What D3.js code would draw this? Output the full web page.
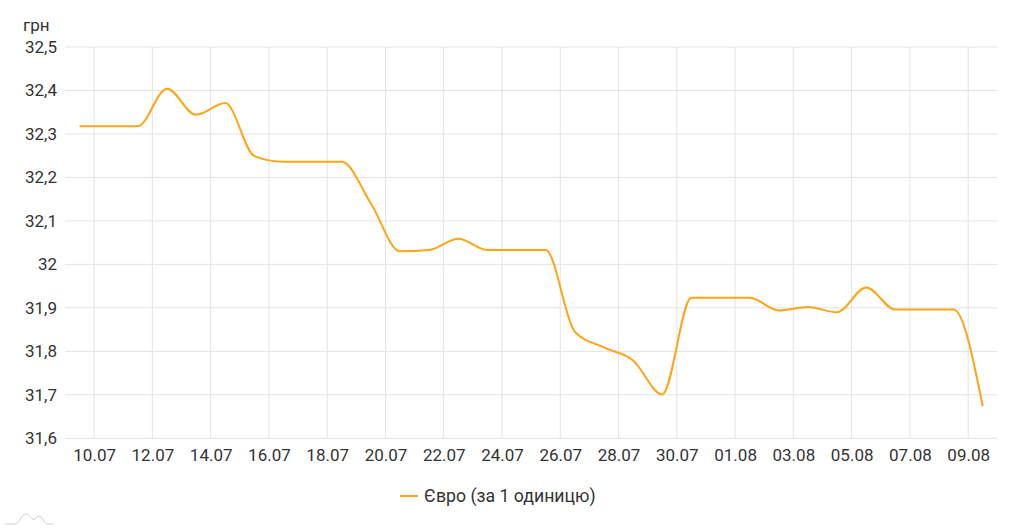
<!DOCTYPE html>
<html>
<head>
<meta charset="utf-8">
<script src="https://cdn.jsdelivr.net/npm/d3@7"></script>
<style>
  html, body { margin: 0; padding: 0; background: #fff; }
  svg { display: block; font-family: Roboto, "Noto Sans", sans-serif; }
</style>
</head>
<body>
<svg id="chart" width="1024" height="530"></svg>
<script>
// ---- data ----
const dates = ["09.07","10.07","11.07","12.07","13.07","14.07","15.07","16.07","17.07","18.07",
  "19.07","20.07","21.07","22.07","23.07","24.07","25.07","26.07","27.07","28.07",
  "29.07","30.07","31.07","01.08","02.08","03.08","04.08","05.08","06.08","07.08",
  "08.08","09.08"];
const values = [32.318,32.318,32.318,32.404,32.344,32.371,32.249,32.236,32.236,32.236,
  32.140,32.030,32.033,32.059,32.033,32.033,32.033,31.845,31.809,31.779,
  31.701,31.923,31.923,31.923,31.894,31.902,31.890,31.947,31.896,31.896,
  31.896,31.674];
const xTickLabels = ["10.07","12.07","14.07","16.07","18.07","20.07","22.07","24.07","26.07","28.07",
  "30.07","01.08","03.08","05.08","07.08","09.08"];
const yTicks = [31.6,31.7,31.8,31.9,32.0,32.1,32.2,32.3,32.4,32.5];
const seriesName = "Євро (за 1 одиницю)";
const unitLabel = "грн";
const domainStart = "09.07", domainEnd = "10.08";
const YEAR = 2023;

(function () {
// ---- helpers ----
const parseDay = s => { const [d, m] = s.split(".").map(Number); return new Date(Date.UTC(YEAR, m - 1, d)); };
const noon = s => new Date(parseDay(s).getTime() + 12 * 3600 * 1000);

const svg = d3.select("#chart");
const mLeft = 65, mRight = 997.3, mTop = 47, mBottom = 438.3;

const x = d3.scaleUtc().domain([parseDay(domainStart), parseDay(domainEnd)]).range([mLeft, mRight]);
const y = d3.scaleLinear().domain([31.6, 32.5]).range([mBottom, mTop]);

const gridColor = "#e3e3e3";
const textColor = "#333";

// horizontal grid
svg.append("g").selectAll("line").data(yTicks).join("line")
  .attr("x1", mLeft).attr("x2", mRight)
  .attr("y1", d => y(d)).attr("y2", d => y(d))
  .attr("stroke", gridColor).attr("stroke-width", 1);

// vertical grid
const xTickDates = xTickLabels.map(parseDay);
svg.append("g").selectAll("line").data(xTickDates).join("line")
  .attr("x1", d => x(d)).attr("x2", d => x(d))
  .attr("y1", mTop).attr("y2", mBottom)
  .attr("stroke", gridColor).attr("stroke-width", 1);

// y axis labels
const fmtY = v => d3.format(".1~f")(v).replace(".", ",");
const yAxis = d3.axisLeft(y).tickValues(yTicks).tickFormat(fmtY).tickSize(0).tickPadding(0);
const yg = svg.append("g").attr("transform", `translate(${mLeft - 8},0)`).call(yAxis);
yg.select(".domain").remove();
yg.selectAll("text").attr("fill", textColor).style("font-size", "17px").style("font-family", "Roboto");

// x axis labels
const xAxis = d3.axisBottom(x).tickValues(xTickDates)
  .tickFormat((d, i) => xTickLabels[i]).tickSize(0).tickPadding(0);
const xg = svg.append("g").attr("transform", `translate(0,${mBottom + 11})`).call(xAxis);
xg.select(".domain").remove();
xg.selectAll("text").attr("fill", textColor).style("font-size", "17px").style("font-family", "Roboto");

// unit label
svg.append("text").attr("x", 23).attr("y", 31).attr("fill", textColor)
  .style("font-size", "17px").text(unitLabel);

// line
const lineColor = "#ffa414";
const line = d3.line().x((d, i) => x(noon(dates[i]))).y(d => y(d)).curve(d3.curveMonotoneX);
svg.append("path").datum(values).attr("d", line)
  .attr("fill", "none").attr("stroke", lineColor).attr("stroke-width", 2);

// legend
const lg = svg.append("g");
lg.append("line").attr("x1", 400).attr("x2", 418).attr("y1", 496).attr("y2", 496)
  .attr("stroke", lineColor).attr("stroke-width", 2);
lg.append("text").attr("x", 424).attr("y", 502).attr("fill", textColor)
  .style("font-size", "17.7px").text(seriesName);

// small logo mark
svg.append("path")
  .attr("d", "M5,524 L15,524 C19,524 21,514 26,514 C30,514 32,521 35,519 C37,516 39,515 42,518 C44,521 45,524 48,524 L53,524")
  .attr("fill", "none").attr("stroke", "#cfcfcf").attr("stroke-width", 1);
})();
</script>
</body>
</html>
